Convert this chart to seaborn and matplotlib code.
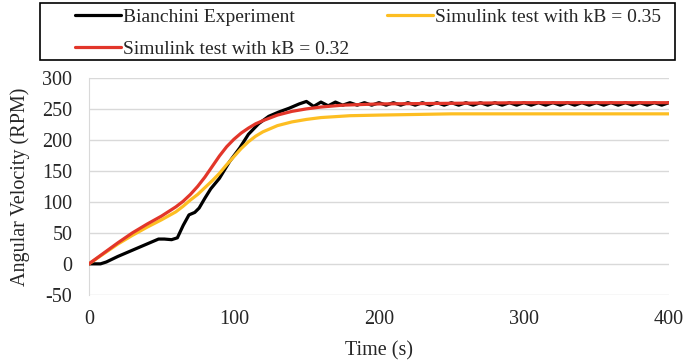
import matplotlib
matplotlib.use("Agg")
import matplotlib.pyplot as plt
from matplotlib.patches import Rectangle
import seaborn as sns

# Bianchini experiment (black)
exp_t = [0, 8, 12, 20, 30, 40, 48, 52, 57, 61, 65, 69, 73, 76, 80, 84, 90, 97,
         104, 110, 117, 124, 131, 138, 145, 150, 155, 160, 165, 170, 175, 180,
         185, 190, 195, 200, 205, 210, 215, 220, 225, 230, 235, 240, 245, 250,
         255, 260, 265, 270, 275, 280, 285, 290, 295, 300, 305, 310, 315, 320,
         325, 330, 335, 340, 345, 350, 355, 360, 365, 370, 375, 380, 385, 390,
         395, 400]
exp_rpm = [0, 0, 3, 12, 22, 32, 40, 40, 39, 42, 62, 79, 83, 90, 106, 121, 138, 165,
           187, 209, 226, 238, 245, 251, 258, 262, 254, 261, 255, 261, 256, 260,
           256, 260, 256, 260, 256, 260, 256, 260, 256, 260, 256, 260, 256, 260,
           256, 260, 256, 260, 256, 260, 256, 260, 256, 260, 256, 260, 256, 260,
           256, 260, 256, 260, 256, 260, 256, 260, 256, 260, 256, 260, 256, 260,
           256, 260]

# Simulink kB = 0.32 (red)
red_t = [0, 10, 20, 30, 40, 50, 60, 65, 70, 75, 80, 85, 90, 95, 100, 105, 110,
         115, 120, 130, 140, 150, 160, 175, 200, 250, 300, 400]
red_rpm = [0, 17, 34, 50, 64, 77, 92, 101, 112, 125, 140, 157, 174, 189, 201,
           211, 219, 226, 231, 240, 246, 250, 253, 256, 258, 259, 260, 260]

# Simulink kB = 0.35 (yellow)
yel_t = [0, 10, 20, 30, 40, 50, 60, 65, 70, 75, 80, 85, 90, 95, 100, 105, 110,
         115, 120, 130, 140, 150, 160, 180, 200, 250, 300, 400]
yel_rpm = [0, 16, 32, 46, 59, 71, 84, 93, 103, 112, 123, 134, 146, 160, 173, 186,
           197, 206, 213, 223, 229, 233, 236, 239, 240, 242, 242, 242]

labels = ["Bianchini Experiment", "Simulink test with kB = 0.32",
          "Simulink test with kB = 0.35"]

sns.set_style("white")
plt.rcParams['font.family'] = ['Liberation Serif', 'DejaVu Serif']
plt.rcParams['axes.unicode_minus'] = False

fig = plt.figure(figsize=(6.84, 3.64), dpi=100)
ax = fig.add_axes([0.130, 0.190, 0.848, 0.596])

sns.lineplot(x=exp_t, y=exp_rpm, ax=ax, color="black", lw=2.3,
             label=labels[0], zorder=3)
sns.lineplot(x=yel_t, y=yel_rpm, ax=ax, color="#FDBE22", lw=2.3,
             label=labels[2], zorder=4)
sns.lineplot(x=red_t, y=red_rpm, ax=ax, color="#E2362A", lw=2.3,
             label=labels[1], zorder=5)

ax.set_xlim(0, 400)
ax.set_ylim(-50, 300)
ax.set_xticks([0, 100, 200, 300, 400])
ax.set_yticks(range(-50, 301, 50))
ax.grid(axis="y", color="#D9D9D9", lw=1)
ax.set_axisbelow(True)
for s in ["top", "right", "bottom"]:
    ax.spines[s].set_visible(False)
ax.spines["left"].set_color("#D9D9D9")
ax.tick_params(axis="y", length=0, labelsize=14.5, pad=12)
ax.tick_params(axis="x", length=0, labelsize=14.5, pad=11)
ax.set_xlabel("Time (s)", fontsize=14.5, labelpad=9)
ax.set_ylabel("Angular Velocity (RPM)", fontsize=14.5, labelpad=9)

# legend box like the Excel one
handles, labs = ax.get_legend_handles_labels()
order = [labs.index(l) for l in labels]
ax.get_legend().remove()
fig.patches.append(Rectangle((40 / 684, 1 - 60 / 364), 635 / 684, 57 / 364,
                             transform=fig.transFigure, fill=False,
                             ec="black", lw=1.2))
fig.legend([handles[i] for i in order], [labs[i] for i in order],
           loc="upper left", bbox_to_anchor=(75 / 684, 1 - 8 / 364), ncol=2,
           fontsize=14, frameon=False, borderpad=0, borderaxespad=0,
           handlelength=2.37, handletextpad=0.12, columnspacing=1.9,
           labelspacing=0.75)

fig.savefig("out.png", dpi=100)
